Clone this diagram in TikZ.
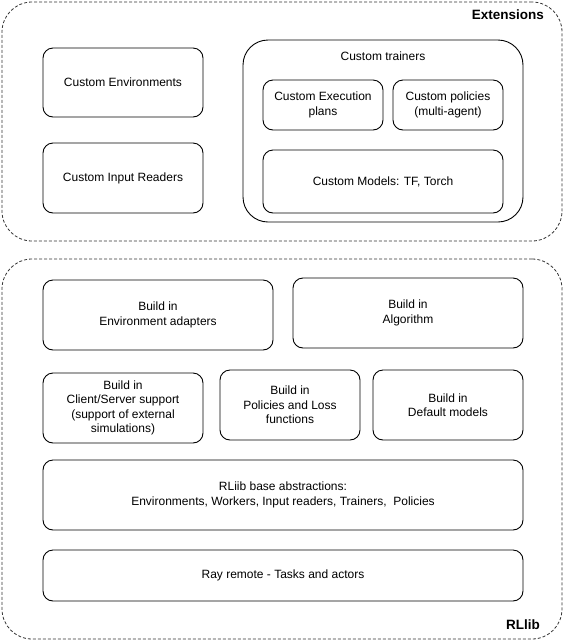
\documentclass[tikz,border=0pt]{standalone}
\usepackage{fontspec}
\setmainfont{Liberation Sans}
\tikzset{
  layer/.style={draw=black!80,line width=0.8pt,dash pattern=on 3pt off 2pt,rounded corners=30pt,inner sep=0pt},
  part/.style={draw,line width=0.9pt,rounded corners=10pt,align=center,inner sep=0pt,
    font=\fontsize{12}{14.5}\selectfont},
  caption/.style={inner sep=0pt,font=\fontsize{12}{14.5}\selectfont},
  tag/.style={font=\fontsize{13.5}{16}\selectfont\bfseries,inner sep=0pt}
}
\begin{document}
\begin{tikzpicture}[x=1pt,y=-1pt]
\useasboundingbox (0,0) rectangle (564,641);
\node[layer,minimum width=560pt,minimum height=239pt](ext) at (282,121.5){};
\node[tag,anchor=east](exttag) at (544,15){Extensions};
\node[part,minimum width=160pt,minimum height=69pt](envs) at (123,82.5){Custom Environments};
\node[part,minimum width=160pt,minimum height=70pt](readers) at (123,178){Custom Input Readers};
\node[part,rounded corners=25pt,minimum width=280pt,minimum height=182pt](trainers) at (383,131){};
\node[caption](trainerstag) at (383,56){Custom trainers};
\node[part,minimum width=120pt,minimum height=50pt](plans) at (323,105){Custom Execution\\plans};
\node[part,minimum width=110pt,minimum height=50pt](policies) at (448,105){Custom policies\\(multi-agent)};
\node[part,minimum width=240pt,minimum height=63pt](models) at (383,181.5){Custom Models: TF, Torch};
\node[layer,minimum width=560pt,minimum height=380pt](rllib) at (282,449){};
\node[tag,anchor=east](rllibtag) at (540,625){RLlib};
\node[part,minimum width=230pt,minimum height=70pt](adapters) at (158,315){Build in\\Environment adapters};
\node[part,minimum width=230pt,minimum height=70pt](algo) at (408,313){Build in\\Algorithm};
\node[part,minimum width=160pt,minimum height=70pt](client) at (123,408){Build in\\Client/Server support\\(support of external\\simulations)};
\node[part,minimum width=140pt,minimum height=70pt](loss) at (290,405){Build in\\Policies and Loss\\functions};
\node[part,minimum width=150pt,minimum height=70pt](defmodels) at (448,405){Build in\\Default models};
\node[part,minimum width=480pt,minimum height=70pt](base) at (283,495){RLiib base abstractions:\\Environments, Workers, Input readers, Trainers,\ \ Policies};
\node[part,minimum width=480pt,minimum height=51pt](ray) at (283,575.5){Ray remote - Tasks and actors};
\end{tikzpicture}
\end{document}
